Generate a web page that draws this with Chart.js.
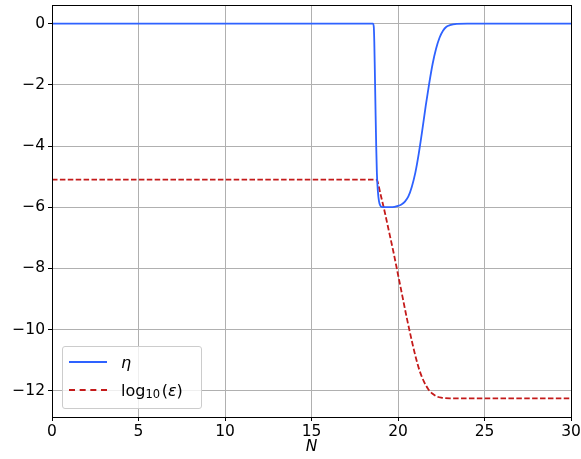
<!DOCTYPE html>
<html>
<head>
<meta charset="utf-8">
<script src="https://cdn.jsdelivr.net/npm/chart.js@4/dist/chart.umd.min.js"></script>
<style>
  body { margin: 0; background: #fff; }
  #wrap { position: relative; width: 581px; height: 459px; }
  #legend {
    position: absolute; left: 62px; top: 346px; width: 138px; height: 61px;
    background: rgba(255,255,255,0.8); border: 1px solid #cccccc; border-radius: 3px;
    font-family: "DejaVu Sans", sans-serif; font-size: 16px; color: #000;
  }
  .item { position: absolute; left: 6px; height: 20px; display: flex; align-items: center; }
  .swatch { width: 38px; height: 0; margin-right: 14px; }
  .sub { font-size: 11.5px; position: relative; top: 4px; }
</style>
</head>
<body>
<div id="wrap">
  <canvas id="chart" width="581" height="459"></canvas>
  <div id="legend">
    <div class="item" style="top:5px"><span class="swatch" style="border-top:2px solid #2e62ff"></span><i>η</i></div>
    <div class="item" style="top:33px"><span class="swatch" style="border-top:2px dashed #c41a1a"></span>log<span class="sub">10</span>&#8202;(<i>ε</i>)</div>
  </div>
</div>
<script>
// eta curve
const etaN = [0, 18.55, 18.6, 18.63, 18.66, 18.7, 18.74, 18.78, 18.84, 18.9, 18.97, 19.05, 19.2, 19.5, 19.8, 20.0, 20.2, 20.4, 20.6, 20.8, 21.0, 21.2, 21.4, 21.6, 21.8, 22.0, 22.2, 22.4, 22.6, 22.8, 23.0, 23.4, 24, 30];
const etaVals = [0, 0, -0.1, -0.6, -1.5, -2.8, -4.0, -4.9, -5.5, -5.8, -5.94, -5.99, -6.0, -6.0, -5.99, -5.96, -5.91, -5.82, -5.65, -5.33, -4.88, -4.25, -3.5, -2.7, -1.97, -1.32, -0.82, -0.46, -0.23, -0.1, -0.05, -0.01, 0, 0];

// log10(epsilon) curve
const epsN = [0, 18.75, 19.0, 19.25, 19.5, 19.75, 20.0, 20.25, 20.5, 20.75, 21.0, 21.25, 21.5, 21.75, 22.0, 22.25, 22.5, 23, 30];
const epsVals = [-5.1, -5.1, -5.6, -6.2, -6.85, -7.5, -8.2, -8.9, -9.6, -10.25, -10.85, -11.35, -11.7, -11.95, -12.1, -12.19, -12.23, -12.25, -12.25];

const yTicks = [0, -2, -4, -6, -8, -10, -12];
const xTicks = [0, 5, 10, 15, 20, 25, 30];

const font = { family: "DejaVu Sans", size: 15.5 };

const frame = {
  id: "frame",
  afterDraw(chart) {
    const a = chart.chartArea, c = chart.ctx;
    c.save();
    c.strokeStyle = "#000";
    c.lineWidth = 1;
    c.strokeRect(Math.round(a.left) + 0.5, Math.round(a.top) + 0.5, Math.round(a.right - a.left), Math.round(a.bottom - a.top));
    c.restore();
  }
};

new Chart(document.getElementById("chart"), {
  type: "line",
  data: {
    datasets: [
      {
        label: "η",
        data: etaN.map((x, i) => ({ x: x, y: etaVals[i] })),
        borderColor: "#2e62ff",
        borderWidth: 1.8,
        pointRadius: 0,
        cubicInterpolationMode: "monotone",
      },
      {
        label: "log10(ε)",
        data: epsN.map((x, i) => ({ x: x, y: epsVals[i] })),
        borderColor: "#c41a1a",
        borderWidth: 1.8,
        borderDash: [5.5, 2.4],
        pointRadius: 0,
        cubicInterpolationMode: "monotone",
      },
    ],
  },
  options: {
    responsive: false,
    animation: false,
    layout: { padding: { top: 5, right: 10, left: 0, bottom: 0 } },
    plugins: { legend: { display: false }, tooltip: { enabled: false } },
    scales: {
      x: {
        type: "linear",
        min: 0,
        max: 30,
        afterBuildTicks: (s) => { s.ticks = xTicks.map((v) => ({ value: v })); },
        afterFit: (s) => { s.height = 42; s.paddingLeft = 0; s.paddingRight = 0; },
        ticks: { font: font, color: "#000", padding: 2, maxRotation: 0 },
        grid: { color: "#b0b0b0", tickColor: "#000", tickLength: 4 },
        border: { color: "#000" },
        title: { display: true, text: "N", font: { family: "DejaVu Sans", size: 15.5, style: "italic" }, color: "#000", padding: { top: 0, bottom: 3 } },
      },
      y: {
        min: -12.86,
        max: 0.61,
        afterBuildTicks: (s) => { s.ticks = yTicks.map((v) => ({ value: v })); },
        afterFit: (s) => { s.width = 52; s.paddingTop = 0; s.paddingBottom = 0; },
        ticks: { font: font, color: "#000", padding: 3, callback: (v) => String(v).replace("-", "\u2212") },
        grid: { color: "#b0b0b0", tickColor: "#000", tickLength: 4 },
        border: { color: "#000" },
      },
    },
  },
  plugins: [frame],
});
</script>
</body>
</html>
